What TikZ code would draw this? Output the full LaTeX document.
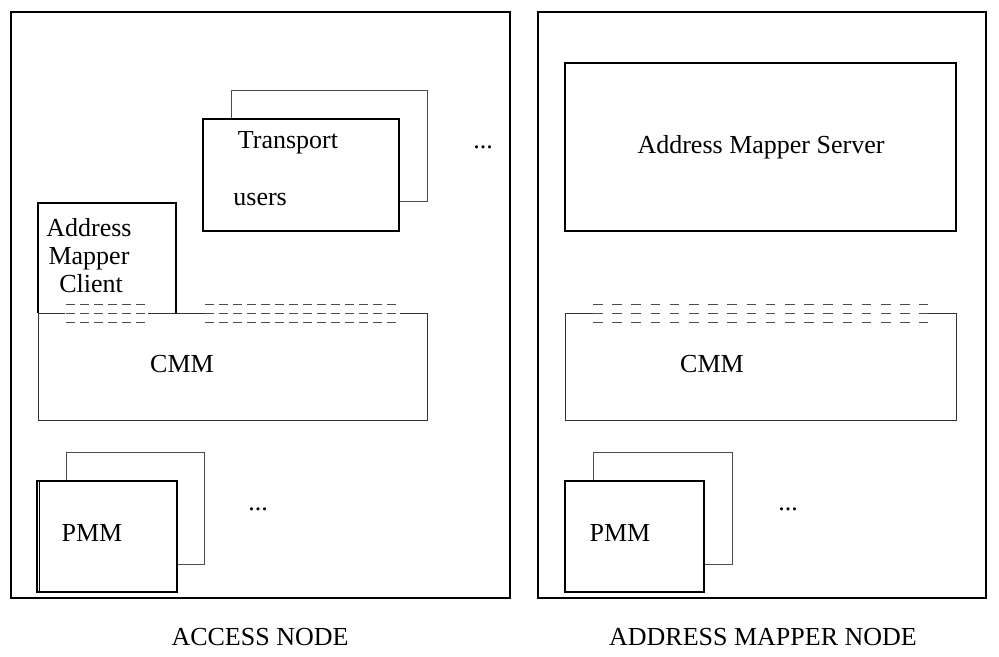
\documentclass[tikz,border=0pt]{standalone}
\usepackage{fontspec}
\setmainfont{Liberation Serif}
\tikzset{
  nodebox/.style={line width=0.8pt},
  unitbox/.style={line width=0.6pt, fill=white},
  backbox/.style={line width=0.5pt, draw=black!70},
  cmmline/.style={line width=0.5pt, draw=black!80},
  slotsA/.style={line width=0.5pt, black!70, dash pattern=on 4.5pt off 2.5pt},
  slotsB/.style={line width=0.5pt, black!70, dash pattern=on 4.75pt off 4.85pt},
  lbl/.style={inner sep=0pt}
}
\begin{document}
\begin{tikzpicture}[x=0.5pt,y=-0.5pt,font=\fontsize{13}{14}\selectfont]
			\useasboundingbox (0,0) rectangle (999,657);
			% the two nodes
			\draw[nodebox] (11,12) rectangle (510,598);
			\draw[nodebox] (538,12) rectangle (986,598);
			\node[lbl] (access) at (260,637) {ACCESS NODE};
			\node[lbl] (mapper) at (763,637) {ADDRESS MAPPER NODE};
			
			% access node: transport users
			\draw[backbox] (231,91) rectangle (427,202);
			\draw[unitbox] (203,119) rectangle (399,231);
			\node[lbl] (transport) at (288,143) {Transport};
			\node[lbl,anchor=west] (users) at (233,200) {users};
			\node[lbl] (dotsA) at (483,147) {...};
			
			% access node: client and CMM
			\draw[line width=0.6pt] (38,313) -- (38,203) -- (176,203) -- (176,313);
			\node[lbl,align=center] (client) at (89,256) {Address\\Mapper\\\,Client};
			\draw[cmmline] (65,313) -- (38,313) -- (38,420) -- (427,420) -- (427,313) -- (400,313);
			\draw[cmmline] (148,313) -- (205,313);
			\foreach \y in {304,313,322} {
				\draw[slotsA] (66,\y) -- (148,\y);
				\draw[slotsA] (205,\y) -- (400,\y);
			}
			\node[lbl] (cmmA) at (182,364) {CMM};
			
			% access node: PMM
			\draw[backbox] (66,452) rectangle (204,564);
			\draw[unitbox] (37,481) rectangle (177,592);
			\draw[line width=0.4pt] (39.5,481) -- (39.5,592);
			\node[lbl] (pmmA) at (92,533) {PMM};
			\node[lbl] (dotsB) at (258,509) {...};
			
			% address mapper node: server
			\draw[line width=0.7pt] (565,63) rectangle (956,231);
			\node[lbl] (server) at (761,147) {Address Mapper Server};
			
			% address mapper node: CMM
			\draw[cmmline] (593,313) -- (565,313) -- (565,420) -- (956,420) -- (956,313) -- (928,313);
			\foreach \y in {304,313,322}
				\draw[slotsB] (593,\y) -- (928,\y);
			\node[lbl] (cmmB) at (712,364) {CMM};
			
			% address mapper node: PMM
			\draw[backbox] (593,452) rectangle (732,564);
			\draw[unitbox] (565,481) rectangle (704,592);
			\node[lbl] (pmmB) at (620,533) {PMM};
			\node[lbl] (dotsC) at (788,509) {...};
\end{tikzpicture}
\end{document}
